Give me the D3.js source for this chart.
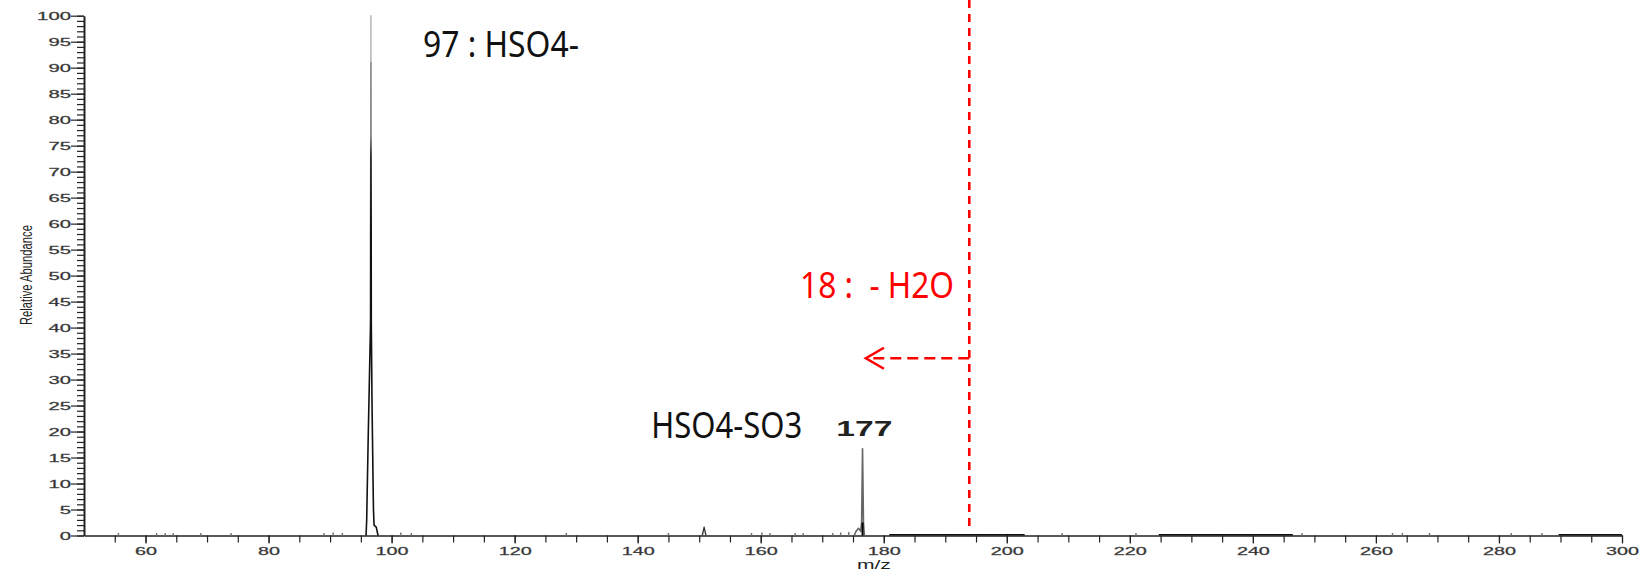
<!DOCTYPE html>
<html>
<head>
<meta charset="utf-8">
<script src="https://cdn.jsdelivr.net/npm/d3@7"></script>
<style>
  html, body { margin: 0; padding: 0; background: #fff; }
  svg { display: block; }
</style>
</head>
<body>
<div id="chart"></div>
<script>
// axis ranges and ticks
const mzDomain = [50, 300];
const abundanceDomain = [0, 100];
const xMajorTicks = [60, 80, 100, 120, 140, 160, 180, 200, 220, 240, 260, 280, 300];
const yMajorTicks = [0, 5, 10, 15, 20, 25, 30, 35, 40, 45, 50, 55, 60, 65, 70, 75, 80, 85, 90, 95, 100];

// profile peaks (m/z, relative abundance)
const peak97Mz  = [95.85, 95.95, 96.2, 96.58, 96.64, 96.7, 96.82, 97.05, 97.15, 97.5, 97.8];
const peak97Int = [0, 3, 19, 41, 100, 41, 25, 5, 2, 1.6, 0];
const peak151Mz  = [150.5, 150.8, 151.1];
const peak151Int = [0, 1.6, 0];
const peak177Mz  = [175.2, 175.5, 175.9, 176.25, 176.4, 176.55, 176.7, 176.85];
const peak177Int = [0, 0.8, 1.4, 0.8, 2.5, 16.7, 2.5, 0];

// baseline noise blips
const noiseMz  = [55.6, 61.8, 63.2, 64.5, 69, 73.9, 89, 90.5, 92, 101.5, 103.2, 128.4, 145, 158.5, 160.2, 161.5,
                  165.6, 166.9, 171.7, 173, 174.3, 209, 221, 248, 262.7, 264.3, 268.7, 282, 287];
const noiseInt = [0.3, 0.3, 0.3, 0.3, 0.3, 0.3, 0.3, 0.4, 0.3, 0.4, 0.3, 0.3, 0.3, 0.3, 0.4, 0.3,
                  0.3, 0.3, 0.3, 0.4, 0.5, 0.3, 0.3, 0.3, 0.3, 0.3, 0.3, 0.3, 0.3];
// dense noise stretches drawn as a thicker baseline
const bandStart = [180.9, 224.7, 289.7];
const bandEnd   = [202.9, 246.5, 300];

// annotations
const labelText = ["97 : HSO4-", "HSO4-SO3", "177", "18 :  - H2O"];
const labelMz   = [105.1, 142.2, 172.3, 166.4];
const labelInt  = [92.1, 18.8, 19.2, 45.7];
const precursorMz = 193.9;   // dashed marker
const arrowTipMz = 177.1;
const arrowInt = 34.1;

const width = 1642, height = 572;

const svg = d3.select("#chart").append("svg")
    .attr("width", width)
    .attr("height", height);

svg.append("rect").attr("width", width).attr("height", height).attr("fill", "#fff");

const x = d3.scaleLinear().domain(mzDomain).range([84, 1622]);
const y = d3.scaleLinear().domain(abundanceDomain).range([535.5, 15.7]);

const tickFont = "'Liberation Sans', Arial, sans-serif";

// y minor ticks
svg.append("g")
    .attr("transform", "translate(84,0)")
    .call(d3.axisLeft(y).tickValues(d3.range(0, 101, 1)).tickSize(7).tickSizeOuter(0).tickFormat(""))
    .call(g => g.select(".domain").attr("stroke", "#222").attr("stroke-width", 2))
    .call(g => g.selectAll(".tick line").attr("stroke", "#222").attr("stroke-width", 1.2));

// y major ticks with labels
svg.append("g")
    .attr("transform", "translate(84,0)")
    .call(d3.axisLeft(y).tickValues(yMajorTicks).tickSize(13).tickSizeOuter(0).tickPadding(0))
    .call(g => g.select(".domain").remove())
    .call(g => g.selectAll(".tick line").attr("stroke", "#222").attr("stroke-width", 1.2))
    .call(g => g.selectAll(".tick text")
        .attr("fill", "#2a2a2a")
        .attr("stroke", "#555")
        .attr("stroke-width", 0.3)
        .style("font-family", tickFont)
        .style("font-size", "11px")
        .attr("textLength", d => String(d).length * 11.3)
        .attr("lengthAdjust", "spacingAndGlyphs"));

// x minor ticks
svg.append("g")
    .attr("transform", `translate(0,${y(0)})`)
    .call(d3.axisBottom(x).tickValues(d3.range(55, 301, 5)).tickSize(7).tickSizeOuter(0).tickFormat(""))
    .call(g => g.select(".domain").attr("stroke", "#222").attr("stroke-width", 1.5))
    .call(g => g.selectAll(".tick line").attr("stroke", "#222").attr("stroke-width", 1.2));

// x major ticks with labels
svg.append("g")
    .attr("transform", `translate(0,${y(0)})`)
    .call(d3.axisBottom(x).tickValues(xMajorTicks).tickSize(8).tickSizeOuter(0).tickPadding(3.5))
    .call(g => g.select(".domain").remove())
    .call(g => g.selectAll(".tick line").attr("stroke", "#222").attr("stroke-width", 1.2))
    .call(g => g.selectAll(".tick text")
        .attr("fill", "#2a2a2a")
        .attr("stroke", "#555")
        .attr("stroke-width", 0.3)
        .style("font-family", tickFont)
        .style("font-size", "11px")
        .attr("textLength", d => String(d).length * 11)
        .attr("lengthAdjust", "spacingAndGlyphs"));

// axis titles
svg.append("text")
    .attr("transform", "translate(32,275) rotate(-90)")
    .attr("text-anchor", "middle")
    .attr("fill", "#222")
    .style("font-family", tickFont)
    .style("font-size", "17px")
    .attr("textLength", 100)
    .attr("lengthAdjust", "spacingAndGlyphs")
    .text("Relative Abundance");

svg.append("text")
    .attr("x", x(178.4))
    .attr("y", 569)
    .attr("text-anchor", "middle")
    .attr("fill", "#222")
    .style("font-family", tickFont)
    .style("font-size", "12px")
    .attr("textLength", 34)
    .attr("lengthAdjust", "spacingAndGlyphs")
    .text("m/z");

// thick noisy baseline stretches
svg.append("g").selectAll("line")
    .data(d3.range(bandStart.length))
    .join("line")
    .attr("x1", i => x(bandStart[i]))
    .attr("x2", i => x(bandEnd[i]))
    .attr("y1", y(0) - 0.8)
    .attr("y2", y(0) - 0.8)
    .attr("stroke", "#111")
    .attr("stroke-width", 1.6);

// noise blips
svg.append("g").selectAll("line")
    .data(d3.range(noiseMz.length))
    .join("line")
    .attr("x1", i => x(noiseMz[i]))
    .attr("x2", i => x(noiseMz[i]))
    .attr("y1", y(0))
    .attr("y2", i => y(noiseInt[i]) - 1)
    .attr("stroke", "#777")
    .attr("stroke-width", 1.5);

// shading of the tall peak: light grey at the top, black at the base
const defs = svg.append("defs");
const grad = defs.append("linearGradient")
    .attr("id", "peakShade")
    .attr("gradientUnits", "userSpaceOnUse")
    .attr("x1", 0).attr("x2", 0)
    .attr("y1", y(100)).attr("y2", y(0));
[[0, "#bcbcbc"], [0.09, "#bcbcbc"], [0.09, "#8a8a8a"], [0.23, "#8a8a8a"], [0.27, "#333"], [0.42, "#111"], [1, "#111"]]
    .forEach(s => grad.append("stop").attr("offset", s[0]).attr("stop-color", s[1]));

const line = d3.line().x(d => x(d[0])).y(d => y(d[1]));

const peaks = [
    {mz: peak97Mz, ab: peak97Int, stroke: "url(#peakShade)", w: 1.6},
    {mz: peak151Mz, ab: peak151Int, stroke: "#333", w: 1.3},
    {mz: peak177Mz, ab: peak177Int, stroke: "#666", w: 1.6}
];
svg.append("g").selectAll("path")
    .data(peaks)
    .join("path")
    .attr("d", p => line(p.mz.map((m, i) => [m, p.ab[i]])))
    .attr("fill", "none")
    .attr("stroke", p => p.stroke)
    .attr("stroke-width", p => p.w)
    .attr("stroke-linejoin", "round");

// black base of the 177 peak
svg.append("line")
    .attr("x1", x(176.55)).attr("x2", x(176.55))
    .attr("y1", y(0)).attr("y2", y(2.5))
    .attr("stroke", "#000").attr("stroke-width", 2);

// annotation labels
const labelStyle = [
    {fill: "#111", font: "'Noto Sans', 'Open Sans', sans-serif", size: 36, weight: 400, len: 156},
    {fill: "#111", font: "'Noto Sans', 'Open Sans', sans-serif", size: 36, weight: 400, len: 151},
    {fill: "#222", font: tickFont, size: 22, weight: 700, len: 56},
    {fill: "#ff0000", font: "'Noto Sans', 'Open Sans', sans-serif", size: 36, weight: 400, len: 154}
];
svg.append("g").selectAll("text")
    .data(d3.range(labelText.length))
    .join("text")
    .attr("x", i => x(labelMz[i]))
    .attr("y", i => y(labelInt[i]))
    .attr("fill", i => labelStyle[i].fill)
    .style("font-family", i => labelStyle[i].font)
    .style("font-size", i => labelStyle[i].size + "px")
    .style("font-weight", i => labelStyle[i].weight)
    .style("white-space", "pre")
    .attr("textLength", i => labelStyle[i].len)
    .attr("lengthAdjust", "spacingAndGlyphs")
    .text(i => labelText[i]);

// red dashed marker and arrow (loss of 18)
svg.append("line")
    .attr("x1", x(precursorMz)).attr("x2", x(precursorMz))
    .attr("y1", 0).attr("y2", y(1))
    .attr("stroke", "#ff0000")
    .attr("stroke-width", 2.6)
    .attr("stroke-dasharray", "8,6");

svg.append("line")
    .attr("x1", x(precursorMz)).attr("x2", x(arrowTipMz) + 2)
    .attr("y1", y(arrowInt)).attr("y2", y(arrowInt))
    .attr("stroke", "#ff0000")
    .attr("stroke-width", 2.6)
    .attr("stroke-dasharray", "11,6");

svg.append("path")
    .attr("d", `M${x(arrowTipMz) + 18},${y(arrowInt) - 10.5} L${x(arrowTipMz)},${y(arrowInt)} L${x(arrowTipMz) + 18},${y(arrowInt) + 10.5}`)
    .attr("fill", "none")
    .attr("stroke", "#ff0000")
    .attr("stroke-width", 2.6);
</script>
</body>
</html>
